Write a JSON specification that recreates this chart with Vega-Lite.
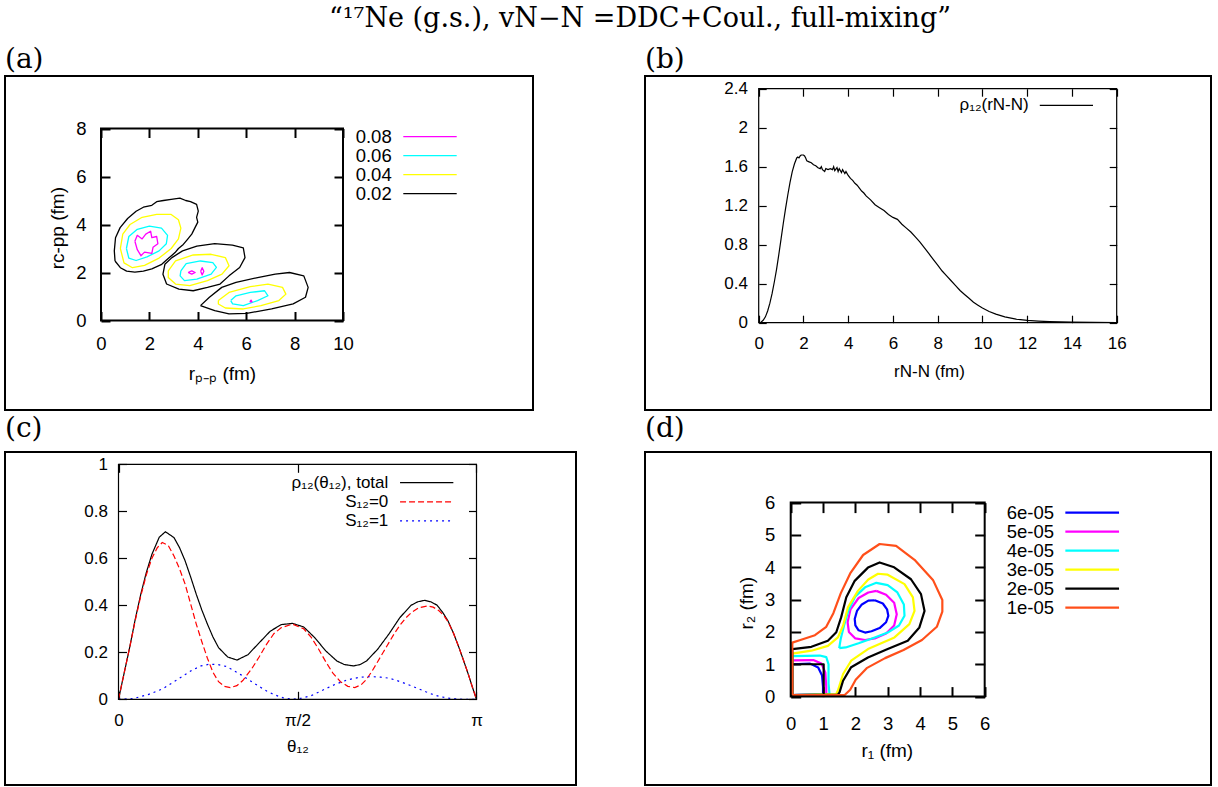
{
"$schema":"https://vega.github.io/schema/vega-lite/v6.json",
"background":"white",
"padding":{"left":4,"top":5,"right":4,"bottom":2},
"title":{"text":"“¹⁷Ne (g.s.), vN−N =DDC+Coul., full-mixing”","font":"DejaVu Serif","fontSize":27,"fontWeight":"normal","anchor":"middle","dx":32,"offset":12,"color":"black"},
"datasets":{
"ca":[
{"g":"k1","l":"0.02","i":0,"x":0.58,"y":2.48},{"g":"k1","l":"0.02","i":1,"x":0.55,"y":2.9},{"g":"k1","l":"0.02","i":2,"x":0.6,"y":3.45},{"g":"k1","l":"0.02","i":3,"x":0.79,"y":3.87},{"g":"k1","l":"0.02","i":4,"x":1.1,"y":4.25},{"g":"k1","l":"0.02","i":5,"x":1.45,"y":4.55},{"g":"k1","l":"0.02","i":6,"x":1.75,"y":4.72},{"g":"k1","l":"0.02","i":7,"x":2.1,"y":4.8},{"g":"k1","l":"0.02","i":8,"x":2.3,"y":4.95},{"g":"k1","l":"0.02","i":9,"x":2.58,"y":5.0},{"g":"k1","l":"0.02","i":10,"x":2.9,"y":5.05},{"g":"k1","l":"0.02","i":11,"x":3.26,"y":5.1},{"g":"k1","l":"0.02","i":12,"x":3.5,"y":5.0},{"g":"k1","l":"0.02","i":13,"x":3.7,"y":4.95},{"g":"k1","l":"0.02","i":14,"x":3.95,"y":4.84},{"g":"k1","l":"0.02","i":15,"x":4.02,"y":4.56},{"g":"k1","l":"0.02","i":16,"x":3.95,"y":4.3},{"g":"k1","l":"0.02","i":17,"x":4.0,"y":4.1},{"g":"k1","l":"0.02","i":18,"x":3.9,"y":3.9},{"g":"k1","l":"0.02","i":19,"x":3.75,"y":3.6},{"g":"k1","l":"0.02","i":20,"x":3.55,"y":3.35},{"g":"k1","l":"0.02","i":21,"x":3.4,"y":3.17},{"g":"k1","l":"0.02","i":22,"x":3.2,"y":3.0},{"g":"k1","l":"0.02","i":23,"x":3.06,"y":2.83},{"g":"k1","l":"0.02","i":24,"x":2.8,"y":2.6},{"g":"k1","l":"0.02","i":25,"x":2.51,"y":2.34},{"g":"k1","l":"0.02","i":26,"x":2.1,"y":2.15},{"g":"k1","l":"0.02","i":27,"x":1.75,"y":2.06},{"g":"k1","l":"0.02","i":28,"x":1.4,"y":2.02},{"g":"k1","l":"0.02","i":29,"x":1.06,"y":2.06},{"g":"k1","l":"0.02","i":30,"x":0.8,"y":2.2},{"g":"k1","l":"0.02","i":31,"x":0.58,"y":2.48},
{"g":"y1","l":"0.04","i":0,"x":0.8,"y":3.0},{"g":"y1","l":"0.04","i":1,"x":0.9,"y":3.6},{"g":"y1","l":"0.04","i":2,"x":1.2,"y":4.0},{"g":"y1","l":"0.04","i":3,"x":1.7,"y":4.3},{"g":"y1","l":"0.04","i":4,"x":2.3,"y":4.42},{"g":"y1","l":"0.04","i":5,"x":2.9,"y":4.42},{"g":"y1","l":"0.04","i":6,"x":3.2,"y":4.2},{"g":"y1","l":"0.04","i":7,"x":3.3,"y":3.85},{"g":"y1","l":"0.04","i":8,"x":3.2,"y":3.4},{"g":"y1","l":"0.04","i":9,"x":2.9,"y":3.0},{"g":"y1","l":"0.04","i":10,"x":2.4,"y":2.6},{"g":"y1","l":"0.04","i":11,"x":1.8,"y":2.3},{"g":"y1","l":"0.04","i":12,"x":1.3,"y":2.2},{"g":"y1","l":"0.04","i":13,"x":0.95,"y":2.4},{"g":"y1","l":"0.04","i":14,"x":0.8,"y":3.0},
{"g":"c1","l":"0.06","i":0,"x":1.05,"y":3.0},{"g":"c1","l":"0.06","i":1,"x":1.15,"y":3.5},{"g":"c1","l":"0.06","i":2,"x":1.5,"y":3.8},{"g":"c1","l":"0.06","i":3,"x":2.0,"y":3.93},{"g":"c1","l":"0.06","i":4,"x":2.5,"y":3.85},{"g":"c1","l":"0.06","i":5,"x":2.75,"y":3.55},{"g":"c1","l":"0.06","i":6,"x":2.7,"y":3.2},{"g":"c1","l":"0.06","i":7,"x":2.4,"y":2.9},{"g":"c1","l":"0.06","i":8,"x":1.9,"y":2.65},{"g":"c1","l":"0.06","i":9,"x":1.45,"y":2.5},{"g":"c1","l":"0.06","i":10,"x":1.15,"y":2.6},{"g":"c1","l":"0.06","i":11,"x":1.05,"y":3.0},
{"g":"m1","l":"0.08","i":0,"x":1.4,"y":3.3},{"g":"m1","l":"0.08","i":1,"x":1.5,"y":3.55},{"g":"m1","l":"0.08","i":2,"x":1.7,"y":3.4},{"g":"m1","l":"0.08","i":3,"x":1.85,"y":3.6},{"g":"m1","l":"0.08","i":4,"x":2.05,"y":3.72},{"g":"m1","l":"0.08","i":5,"x":2.1,"y":3.45},{"g":"m1","l":"0.08","i":6,"x":2.3,"y":3.5},{"g":"m1","l":"0.08","i":7,"x":2.35,"y":3.2},{"g":"m1","l":"0.08","i":8,"x":2.15,"y":3.05},{"g":"m1","l":"0.08","i":9,"x":2.1,"y":2.8},{"g":"m1","l":"0.08","i":10,"x":1.8,"y":2.85},{"g":"m1","l":"0.08","i":11,"x":1.65,"y":2.7},{"g":"m1","l":"0.08","i":12,"x":1.5,"y":2.95},{"g":"m1","l":"0.08","i":13,"x":1.4,"y":3.3},
{"g":"k2","l":"0.02","i":0,"x":3.37,"y":2.9},{"g":"k2","l":"0.02","i":1,"x":3.96,"y":3.1},{"g":"k2","l":"0.02","i":2,"x":4.7,"y":3.2},{"g":"k2","l":"0.02","i":3,"x":5.43,"y":3.14},{"g":"k2","l":"0.02","i":4,"x":5.88,"y":3.03},{"g":"k2","l":"0.02","i":5,"x":5.95,"y":2.62},{"g":"k2","l":"0.02","i":6,"x":5.73,"y":2.21},{"g":"k2","l":"0.02","i":7,"x":5.29,"y":1.86},{"g":"k2","l":"0.02","i":8,"x":4.92,"y":1.52},{"g":"k2","l":"0.02","i":9,"x":4.4,"y":1.38},{"g":"k2","l":"0.02","i":10,"x":3.81,"y":1.24},{"g":"k2","l":"0.02","i":11,"x":3.22,"y":1.31},{"g":"k2","l":"0.02","i":12,"x":2.71,"y":1.52},{"g":"k2","l":"0.02","i":13,"x":2.56,"y":1.93},{"g":"k2","l":"0.02","i":14,"x":2.64,"y":2.34},{"g":"k2","l":"0.02","i":15,"x":2.93,"y":2.62},{"g":"k2","l":"0.02","i":16,"x":3.37,"y":2.9},
{"g":"y2","l":"0.04","i":0,"x":2.78,"y":2.07},{"g":"y2","l":"0.04","i":1,"x":3.08,"y":2.48},{"g":"y2","l":"0.04","i":2,"x":3.81,"y":2.73},{"g":"y2","l":"0.04","i":3,"x":4.55,"y":2.76},{"g":"y2","l":"0.04","i":4,"x":5.14,"y":2.62},{"g":"y2","l":"0.04","i":5,"x":5.29,"y":2.28},{"g":"y2","l":"0.04","i":6,"x":5.0,"y":1.93},{"g":"y2","l":"0.04","i":7,"x":4.4,"y":1.66},{"g":"y2","l":"0.04","i":8,"x":3.67,"y":1.45},{"g":"y2","l":"0.04","i":9,"x":3.08,"y":1.52},{"g":"y2","l":"0.04","i":10,"x":2.78,"y":1.79},{"g":"y2","l":"0.04","i":11,"x":2.78,"y":2.07},
{"g":"c2","l":"0.06","i":0,"x":3.3,"y":2.07},{"g":"c2","l":"0.06","i":1,"x":3.52,"y":2.37},{"g":"c2","l":"0.06","i":2,"x":4.11,"y":2.48},{"g":"c2","l":"0.06","i":3,"x":4.62,"y":2.41},{"g":"c2","l":"0.06","i":4,"x":4.77,"y":2.21},{"g":"c2","l":"0.06","i":5,"x":4.55,"y":1.93},{"g":"c2","l":"0.06","i":6,"x":3.96,"y":1.72},{"g":"c2","l":"0.06","i":7,"x":3.45,"y":1.66},{"g":"c2","l":"0.06","i":8,"x":3.27,"y":1.86},{"g":"c2","l":"0.06","i":9,"x":3.3,"y":2.07},
{"g":"m2","l":"0.08","i":0,"x":3.6,"y":2.0},{"g":"m2","l":"0.08","i":1,"x":3.75,"y":2.07},{"g":"m2","l":"0.08","i":2,"x":3.89,"y":2.0},{"g":"m2","l":"0.08","i":3,"x":3.75,"y":1.93},{"g":"m2","l":"0.08","i":4,"x":3.6,"y":2.0},
{"g":"m3","l":"0.08","i":0,"x":4.12,"y":2.05},{"g":"m3","l":"0.08","i":1,"x":4.18,"y":2.2},{"g":"m3","l":"0.08","i":2,"x":4.25,"y":2.05},{"g":"m3","l":"0.08","i":3,"x":4.18,"y":1.9},{"g":"m3","l":"0.08","i":4,"x":4.12,"y":2.05},
{"g":"k3","l":"0.02","i":0,"x":4.11,"y":0.62},{"g":"k3","l":"0.02","i":1,"x":4.48,"y":0.97},{"g":"k3","l":"0.02","i":2,"x":4.99,"y":1.38},{"g":"k3","l":"0.02","i":3,"x":5.58,"y":1.59},{"g":"k3","l":"0.02","i":4,"x":6.47,"y":1.79},{"g":"k3","l":"0.02","i":5,"x":7.2,"y":1.93},{"g":"k3","l":"0.02","i":6,"x":7.79,"y":2.0},{"g":"k3","l":"0.02","i":7,"x":8.38,"y":1.86},{"g":"k3","l":"0.02","i":8,"x":8.56,"y":1.38},{"g":"k3","l":"0.02","i":9,"x":8.45,"y":0.97},{"g":"k3","l":"0.02","i":10,"x":7.94,"y":0.69},{"g":"k3","l":"0.02","i":11,"x":7.05,"y":0.48},{"g":"k3","l":"0.02","i":12,"x":6.02,"y":0.3},{"g":"k3","l":"0.02","i":13,"x":5.29,"y":0.28},{"g":"k3","l":"0.02","i":14,"x":4.7,"y":0.41},{"g":"k3","l":"0.02","i":15,"x":4.11,"y":0.62},
{"g":"y3","l":"0.04","i":0,"x":4.85,"y":0.83},{"g":"y3","l":"0.04","i":1,"x":5.29,"y":1.17},{"g":"y3","l":"0.04","i":2,"x":6.17,"y":1.41},{"g":"y3","l":"0.04","i":3,"x":6.9,"y":1.52},{"g":"y3","l":"0.04","i":4,"x":7.5,"y":1.38},{"g":"y3","l":"0.04","i":5,"x":7.64,"y":1.1},{"g":"y3","l":"0.04","i":6,"x":7.35,"y":0.83},{"g":"y3","l":"0.04","i":7,"x":6.61,"y":0.62},{"g":"y3","l":"0.04","i":8,"x":5.88,"y":0.48},{"g":"y3","l":"0.04","i":9,"x":5.14,"y":0.52},{"g":"y3","l":"0.04","i":10,"x":4.85,"y":0.69},{"g":"y3","l":"0.04","i":11,"x":4.85,"y":0.83},
{"g":"c3","l":"0.06","i":0,"x":5.36,"y":0.83},{"g":"c3","l":"0.06","i":1,"x":5.58,"y":1.03},{"g":"c3","l":"0.06","i":2,"x":6.17,"y":1.17},{"g":"c3","l":"0.06","i":3,"x":6.76,"y":1.24},{"g":"c3","l":"0.06","i":4,"x":6.9,"y":1.03},{"g":"c3","l":"0.06","i":5,"x":6.47,"y":0.83},{"g":"c3","l":"0.06","i":6,"x":5.88,"y":0.62},{"g":"c3","l":"0.06","i":7,"x":5.44,"y":0.69},{"g":"c3","l":"0.06","i":8,"x":5.36,"y":0.83},
{"g":"m4","l":"0.08","i":0,"x":6.15,"y":0.78},{"g":"m4","l":"0.08","i":1,"x":6.2,"y":0.85},{"g":"m4","l":"0.08","i":2,"x":6.24,"y":0.78},{"g":"m4","l":"0.08","i":3,"x":6.15,"y":0.78}
],
"rb":[
{"r":0,"v":0},{"r":0.1,"v":0.005},{"r":0.2,"v":0.025},{"r":0.3,"v":0.06},{"r":0.4,"v":0.12},{"r":0.5,"v":0.2},{"r":0.6,"v":0.3},{"r":0.7,"v":0.42},{"r":0.8,"v":0.55},{"r":0.9,"v":0.7},{"r":1.0,"v":0.86},{"r":1.1,"v":1.02},{"r":1.2,"v":1.17},{"r":1.3,"v":1.31},{"r":1.4,"v":1.44},{"r":1.5,"v":1.55},{"r":1.6,"v":1.63},{"r":1.7,"v":1.69},{"r":1.75,"v":1.7},{"r":1.8,"v":1.69},{"r":1.85,"v":1.71},{"r":1.9,"v":1.72},{"r":2.0,"v":1.72},{"r":2.05,"v":1.71},{"r":2.1,"v":1.69},{"r":2.15,"v":1.66},{"r":2.25,"v":1.65},{"r":2.35,"v":1.64},{"r":2.45,"v":1.62},{"r":2.55,"v":1.61},{"r":2.65,"v":1.59},{"r":2.75,"v":1.58},{"r":2.8,"v":1.6},{"r":2.85,"v":1.57},{"r":2.95,"v":1.55},{"r":3.0,"v":1.58},{"r":3.1,"v":1.57},{"r":3.2,"v":1.58},{"r":3.3,"v":1.57},{"r":3.35,"v":1.6},{"r":3.4,"v":1.56},{"r":3.5,"v":1.59},{"r":3.55,"v":1.55},{"r":3.6,"v":1.58},{"r":3.7,"v":1.54},{"r":3.75,"v":1.57},{"r":3.85,"v":1.53},{"r":3.9,"v":1.55},{"r":4.0,"v":1.51},{"r":4.1,"v":1.48},{"r":4.2,"v":1.46},{"r":4.3,"v":1.43},{"r":4.4,"v":1.41},{"r":4.5,"v":1.38},{"r":4.6,"v":1.35},{"r":4.7,"v":1.33},{"r":4.8,"v":1.3},{"r":5.0,"v":1.26},{"r":5.2,"v":1.21},{"r":5.4,"v":1.18},{"r":5.6,"v":1.15},{"r":5.8,"v":1.11},{"r":6.0,"v":1.08},{"r":6.2,"v":1.06},{"r":6.4,"v":1.01},{"r":6.6,"v":0.97},{"r":6.8,"v":0.93},{"r":7.0,"v":0.88},{"r":7.2,"v":0.83},{"r":7.4,"v":0.77},{"r":7.6,"v":0.71},{"r":7.8,"v":0.65},{"r":8.0,"v":0.59},{"r":8.2,"v":0.53},{"r":8.4,"v":0.48},{"r":8.6,"v":0.43},{"r":8.8,"v":0.38},{"r":9.0,"v":0.33},{"r":9.2,"v":0.29},{"r":9.4,"v":0.25},{"r":9.6,"v":0.21},{"r":9.8,"v":0.18},{"r":10.0,"v":0.15},{"r":10.3,"v":0.115},{"r":10.6,"v":0.088},{"r":11.0,"v":0.06},{"r":11.5,"v":0.037},{"r":12.0,"v":0.024},{"r":12.5,"v":0.017},{"r":13.0,"v":0.012},{"r":14.0,"v":0.007},{"r":15.0,"v":0.004},{"r":16.0,"v":0.002}
],
"tc":[
{"s":"ρ₁₂(θ₁₂), total","t":0,"v":0},{"s":"ρ₁₂(θ₁₂), total","t":2.8,"v":0.11},{"s":"ρ₁₂(θ₁₂), total","t":5.6,"v":0.22},{"s":"ρ₁₂(θ₁₂), total","t":8.4,"v":0.34},{"s":"ρ₁₂(θ₁₂), total","t":11.2,"v":0.447},{"s":"ρ₁₂(θ₁₂), total","t":14,"v":0.54},{"s":"ρ₁₂(θ₁₂), total","t":16.8,"v":0.617},{"s":"ρ₁₂(θ₁₂), total","t":20.5,"v":0.69},{"s":"ρ₁₂(θ₁₂), total","t":23.6,"v":0.713},{"s":"ρ₁₂(θ₁₂), total","t":27.9,"v":0.688},{"s":"ρ₁₂(θ₁₂), total","t":30.7,"v":0.645},{"s":"ρ₁₂(θ₁₂), total","t":33.5,"v":0.589},{"s":"ρ₁₂(θ₁₂), total","t":36.3,"v":0.52},{"s":"ρ₁₂(θ₁₂), total","t":39.1,"v":0.447},{"s":"ρ₁₂(θ₁₂), total","t":41.9,"v":0.38},{"s":"ρ₁₂(θ₁₂), total","t":44.7,"v":0.32},{"s":"ρ₁₂(θ₁₂), total","t":47.5,"v":0.265},{"s":"ρ₁₂(θ₁₂), total","t":50.3,"v":0.22},{"s":"ρ₁₂(θ₁₂), total","t":54.9,"v":0.18},{"s":"ρ₁₂(θ₁₂), total","t":59.6,"v":0.167},{"s":"ρ₁₂(θ₁₂), total","t":65.1,"v":0.19},{"s":"ρ₁₂(θ₁₂), total","t":70.7,"v":0.24},{"s":"ρ₁₂(θ₁₂), total","t":76.3,"v":0.29},{"s":"ρ₁₂(θ₁₂), total","t":81.9,"v":0.318},{"s":"ρ₁₂(θ₁₂), total","t":87.5,"v":0.323},{"s":"ρ₁₂(θ₁₂), total","t":93.1,"v":0.308},{"s":"ρ₁₂(θ₁₂), total","t":98.7,"v":0.262},{"s":"ρ₁₂(θ₁₂), total","t":104.2,"v":0.206},{"s":"ρ₁₂(θ₁₂), total","t":109.8,"v":0.163},{"s":"ρ₁₂(θ₁₂), total","t":113.5,"v":0.148},{"s":"ρ₁₂(θ₁₂), total","t":118.2,"v":0.142},{"s":"ρ₁₂(θ₁₂), total","t":121.5,"v":0.148},{"s":"ρ₁₂(θ₁₂), total","t":124.7,"v":0.163},{"s":"ρ₁₂(θ₁₂), total","t":130.3,"v":0.213},{"s":"ρ₁₂(θ₁₂), total","t":135.9,"v":0.277},{"s":"ρ₁₂(θ₁₂), total","t":141.5,"v":0.348},{"s":"ρ₁₂(θ₁₂), total","t":147.1,"v":0.4},{"s":"ρ₁₂(θ₁₂), total","t":150.5,"v":0.415},{"s":"ρ₁₂(θ₁₂), total","t":153.9,"v":0.421},{"s":"ρ₁₂(θ₁₂), total","t":157,"v":0.415},{"s":"ρ₁₂(θ₁₂), total","t":160.1,"v":0.401},{"s":"ρ₁₂(θ₁₂), total","t":163,"v":0.37},{"s":"ρ₁₂(θ₁₂), total","t":165.7,"v":0.333},{"s":"ρ₁₂(θ₁₂), total","t":168.5,"v":0.28},{"s":"ρ₁₂(θ₁₂), total","t":171.2,"v":0.22},{"s":"ρ₁₂(θ₁₂), total","t":173.5,"v":0.165},{"s":"ρ₁₂(θ₁₂), total","t":175.9,"v":0.106},{"s":"ρ₁₂(θ₁₂), total","t":178,"v":0.05},{"s":"ρ₁₂(θ₁₂), total","t":180,"v":0},
{"s":"S₁₂=0","t":0,"v":0},{"s":"S₁₂=0","t":2.8,"v":0.11},{"s":"S₁₂=0","t":5.6,"v":0.22},{"s":"S₁₂=0","t":8.4,"v":0.335},{"s":"S₁₂=0","t":11.2,"v":0.44},{"s":"S₁₂=0","t":14,"v":0.53},{"s":"S₁₂=0","t":16.8,"v":0.6},{"s":"S₁₂=0","t":19.5,"v":0.645},{"s":"S₁₂=0","t":22,"v":0.667},{"s":"S₁₂=0","t":25,"v":0.655},{"s":"S₁₂=0","t":27.9,"v":0.61},{"s":"S₁₂=0","t":30.7,"v":0.555},{"s":"S₁₂=0","t":33.5,"v":0.49},{"s":"S₁₂=0","t":36.3,"v":0.405},{"s":"S₁₂=0","t":39.1,"v":0.32},{"s":"S₁₂=0","t":41.9,"v":0.245},{"s":"S₁₂=0","t":44.7,"v":0.175},{"s":"S₁₂=0","t":47.5,"v":0.115},{"s":"S₁₂=0","t":50.3,"v":0.075},{"s":"S₁₂=0","t":53.2,"v":0.055},{"s":"S₁₂=0","t":56.2,"v":0.05},{"s":"S₁₂=0","t":59.5,"v":0.058},{"s":"S₁₂=0","t":62.5,"v":0.08},{"s":"S₁₂=0","t":67,"v":0.13},{"s":"S₁₂=0","t":70.7,"v":0.18},{"s":"S₁₂=0","t":74.5,"v":0.235},{"s":"S₁₂=0","t":78.2,"v":0.28},{"s":"S₁₂=0","t":81.9,"v":0.305},{"s":"S₁₂=0","t":87.5,"v":0.32},{"s":"S₁₂=0","t":93.1,"v":0.3},{"s":"S₁₂=0","t":96.8,"v":0.265},{"s":"S₁₂=0","t":100.5,"v":0.215},{"s":"S₁₂=0","t":104.2,"v":0.16},{"s":"S₁₂=0","t":107.9,"v":0.11},{"s":"S₁₂=0","t":111.6,"v":0.075},{"s":"S₁₂=0","t":115.3,"v":0.055},{"s":"S₁₂=0","t":118.8,"v":0.05},{"s":"S₁₂=0","t":122,"v":0.062},{"s":"S₁₂=0","t":124.7,"v":0.085},{"s":"S₁₂=0","t":127.5,"v":0.12},{"s":"S₁₂=0","t":130.3,"v":0.16},{"s":"S₁₂=0","t":133.1,"v":0.2},{"s":"S₁₂=0","t":135.9,"v":0.24},{"s":"S₁₂=0","t":138.7,"v":0.28},{"s":"S₁₂=0","t":141.5,"v":0.315},{"s":"S₁₂=0","t":144.3,"v":0.345},{"s":"S₁₂=0","t":147.1,"v":0.368},{"s":"S₁₂=0","t":151,"v":0.39},{"s":"S₁₂=0","t":155.4,"v":0.397},{"s":"S₁₂=0","t":158.2,"v":0.392},{"s":"S₁₂=0","t":161,"v":0.378},{"s":"S₁₂=0","t":163.5,"v":0.357},{"s":"S₁₂=0","t":165.7,"v":0.33},{"s":"S₁₂=0","t":168.5,"v":0.28},{"s":"S₁₂=0","t":171.2,"v":0.22},{"s":"S₁₂=0","t":173.5,"v":0.165},{"s":"S₁₂=0","t":175.9,"v":0.106},{"s":"S₁₂=0","t":178,"v":0.05},{"s":"S₁₂=0","t":180,"v":0},
{"s":"S₁₂=1","t":0,"v":0},{"s":"S₁₂=1","t":7.4,"v":0.003},{"s":"S₁₂=1","t":14.9,"v":0.02},{"s":"S₁₂=1","t":22.3,"v":0.045},{"s":"S₁₂=1","t":29.8,"v":0.085},{"s":"S₁₂=1","t":37.2,"v":0.125},{"s":"S₁₂=1","t":41.5,"v":0.142},{"s":"S₁₂=1","t":45.6,"v":0.149},{"s":"S₁₂=1","t":50,"v":0.148},{"s":"S₁₂=1","t":54,"v":0.14},{"s":"S₁₂=1","t":57.5,"v":0.125},{"s":"S₁₂=1","t":61.4,"v":0.105},{"s":"S₁₂=1","t":66,"v":0.08},{"s":"S₁₂=1","t":70.7,"v":0.055},{"s":"S₁₂=1","t":74.5,"v":0.035},{"s":"S₁₂=1","t":78.2,"v":0.02},{"s":"S₁₂=1","t":82.5,"v":0.007},{"s":"S₁₂=1","t":87.5,"v":0},{"s":"S₁₂=1","t":92,"v":0.005},{"s":"S₁₂=1","t":96.8,"v":0.015},{"s":"S₁₂=1","t":100.5,"v":0.03},{"s":"S₁₂=1","t":104.2,"v":0.045},{"s":"S₁₂=1","t":108.8,"v":0.063},{"s":"S₁₂=1","t":113.5,"v":0.078},{"s":"S₁₂=1","t":117.3,"v":0.087},{"s":"S₁₂=1","t":121,"v":0.093},{"s":"S₁₂=1","t":124.7,"v":0.096},{"s":"S₁₂=1","t":128.4,"v":0.096},{"s":"S₁₂=1","t":132,"v":0.094},{"s":"S₁₂=1","t":135.9,"v":0.09},{"s":"S₁₂=1","t":139.6,"v":0.081},{"s":"S₁₂=1","t":143.3,"v":0.07},{"s":"S₁₂=1","t":147,"v":0.058},{"s":"S₁₂=1","t":150.8,"v":0.045},{"s":"S₁₂=1","t":154.5,"v":0.032},{"s":"S₁₂=1","t":158.2,"v":0.02},{"s":"S₁₂=1","t":162,"v":0.011},{"s":"S₁₂=1","t":165.7,"v":0.005},{"s":"S₁₂=1","t":169.4,"v":0.002},{"s":"S₁₂=1","t":173.1,"v":0},{"s":"S₁₂=1","t":180,"v":0}
],
"cd":[
{"g":"b1","l":"6e-05","i":0,"x":2.6,"y":2.98},{"g":"b1","l":"6e-05","i":1,"x":2.85,"y":2.88},{"g":"b1","l":"6e-05","i":2,"x":2.98,"y":2.7},{"g":"b1","l":"6e-05","i":3,"x":3.02,"y":2.5},{"g":"b1","l":"6e-05","i":4,"x":2.95,"y":2.3},{"g":"b1","l":"6e-05","i":5,"x":2.75,"y":2.12},{"g":"b1","l":"6e-05","i":6,"x":2.5,"y":2.02},{"g":"b1","l":"6e-05","i":7,"x":2.3,"y":1.98},{"g":"b1","l":"6e-05","i":8,"x":2.1,"y":2.05},{"g":"b1","l":"6e-05","i":9,"x":2.0,"y":2.2},{"g":"b1","l":"6e-05","i":10,"x":1.98,"y":2.4},{"g":"b1","l":"6e-05","i":11,"x":2.05,"y":2.65},{"g":"b1","l":"6e-05","i":12,"x":2.2,"y":2.85},{"g":"b1","l":"6e-05","i":13,"x":2.4,"y":2.97},{"g":"b1","l":"6e-05","i":14,"x":2.6,"y":2.98},
{"g":"b2","l":"6e-05","i":0,"x":0.05,"y":0.05},{"g":"b2","l":"6e-05","i":1,"x":0.05,"y":1.0},{"g":"b2","l":"6e-05","i":2,"x":0.6,"y":1.02},{"g":"b2","l":"6e-05","i":3,"x":0.85,"y":0.9},{"g":"b2","l":"6e-05","i":4,"x":0.97,"y":0.65},{"g":"b2","l":"6e-05","i":5,"x":1.0,"y":0.3},{"g":"b2","l":"6e-05","i":6,"x":1.0,"y":0.08},{"g":"b2","l":"6e-05","i":7,"x":0.05,"y":0.05},
{"g":"p1","l":"5e-05","i":0,"x":2.65,"y":3.27},{"g":"p1","l":"5e-05","i":1,"x":2.95,"y":3.15},{"g":"p1","l":"5e-05","i":2,"x":3.2,"y":2.9},{"g":"p1","l":"5e-05","i":3,"x":3.28,"y":2.55},{"g":"p1","l":"5e-05","i":4,"x":3.2,"y":2.2},{"g":"p1","l":"5e-05","i":5,"x":2.95,"y":1.95},{"g":"p1","l":"5e-05","i":6,"x":2.6,"y":1.8},{"g":"p1","l":"5e-05","i":7,"x":2.3,"y":1.75},{"g":"p1","l":"5e-05","i":8,"x":2.0,"y":1.8},{"g":"p1","l":"5e-05","i":9,"x":1.8,"y":2.0},{"g":"p1","l":"5e-05","i":10,"x":1.76,"y":2.3},{"g":"p1","l":"5e-05","i":11,"x":1.85,"y":2.7},{"g":"p1","l":"5e-05","i":12,"x":2.1,"y":3.05},{"g":"p1","l":"5e-05","i":13,"x":2.4,"y":3.22},{"g":"p1","l":"5e-05","i":14,"x":2.65,"y":3.27},
{"g":"p2","l":"5e-05","i":0,"x":0.05,"y":0.05},{"g":"p2","l":"5e-05","i":1,"x":0.05,"y":1.12},{"g":"p2","l":"5e-05","i":2,"x":0.7,"y":1.13},{"g":"p2","l":"5e-05","i":3,"x":0.95,"y":1.02},{"g":"p2","l":"5e-05","i":4,"x":1.07,"y":0.75},{"g":"p2","l":"5e-05","i":5,"x":1.1,"y":0.3},{"g":"p2","l":"5e-05","i":6,"x":1.1,"y":0.07},{"g":"p2","l":"5e-05","i":7,"x":0.05,"y":0.05},
{"g":"q1","l":"4e-05","i":0,"x":1.5,"y":1.5},{"g":"q1","l":"4e-05","i":1,"x":1.55,"y":1.8},{"g":"q1","l":"4e-05","i":2,"x":1.65,"y":2.2},{"g":"q1","l":"4e-05","i":3,"x":1.78,"y":2.65},{"g":"q1","l":"4e-05","i":4,"x":2.0,"y":3.1},{"g":"q1","l":"4e-05","i":5,"x":2.3,"y":3.38},{"g":"q1","l":"4e-05","i":6,"x":2.65,"y":3.52},{"g":"q1","l":"4e-05","i":7,"x":3.0,"y":3.45},{"g":"q1","l":"4e-05","i":8,"x":3.3,"y":3.22},{"g":"q1","l":"4e-05","i":9,"x":3.5,"y":2.85},{"g":"q1","l":"4e-05","i":10,"x":3.52,"y":2.5},{"g":"q1","l":"4e-05","i":11,"x":3.35,"y":2.2},{"g":"q1","l":"4e-05","i":12,"x":3.0,"y":1.98},{"g":"q1","l":"4e-05","i":13,"x":2.6,"y":1.83},{"g":"q1","l":"4e-05","i":14,"x":2.1,"y":1.65},{"g":"q1","l":"4e-05","i":15,"x":1.7,"y":1.52},{"g":"q1","l":"4e-05","i":16,"x":1.5,"y":1.5},
{"g":"q2","l":"4e-05","i":0,"x":0.05,"y":0.05},{"g":"q2","l":"4e-05","i":1,"x":0.05,"y":1.25},{"g":"q2","l":"4e-05","i":2,"x":0.9,"y":1.27},{"g":"q2","l":"4e-05","i":3,"x":1.1,"y":1.22},{"g":"q2","l":"4e-05","i":4,"x":1.17,"y":1.0},{"g":"q2","l":"4e-05","i":5,"x":1.17,"y":0.4},{"g":"q2","l":"4e-05","i":6,"x":1.2,"y":0.08},{"g":"q2","l":"4e-05","i":7,"x":0.05,"y":0.05},
{"g":"r1","l":"3e-05","i":0,"x":0.05,"y":0.05},{"g":"r1","l":"3e-05","i":1,"x":0.05,"y":1.33},{"g":"r1","l":"3e-05","i":2,"x":0.64,"y":1.42},{"g":"r1","l":"3e-05","i":3,"x":1.15,"y":1.57},{"g":"r1","l":"3e-05","i":4,"x":1.46,"y":1.83},{"g":"r1","l":"3e-05","i":5,"x":1.62,"y":2.19},{"g":"r1","l":"3e-05","i":6,"x":1.77,"y":2.76},{"g":"r1","l":"3e-05","i":7,"x":2.08,"y":3.27},{"g":"r1","l":"3e-05","i":8,"x":2.4,"y":3.62},{"g":"r1","l":"3e-05","i":9,"x":2.7,"y":3.8},{"g":"r1","l":"3e-05","i":10,"x":3.0,"y":3.77},{"g":"r1","l":"3e-05","i":11,"x":3.52,"y":3.48},{"g":"r1","l":"3e-05","i":12,"x":3.78,"y":3.07},{"g":"r1","l":"3e-05","i":13,"x":3.83,"y":2.65},{"g":"r1","l":"3e-05","i":14,"x":3.67,"y":2.24},{"g":"r1","l":"3e-05","i":15,"x":3.21,"y":1.83},{"g":"r1","l":"3e-05","i":16,"x":2.39,"y":1.47},{"g":"r1","l":"3e-05","i":17,"x":1.87,"y":1.11},{"g":"r1","l":"3e-05","i":18,"x":1.62,"y":0.7},{"g":"r1","l":"3e-05","i":19,"x":1.46,"y":0.19},{"g":"r1","l":"3e-05","i":20,"x":1.41,"y":0.08},{"g":"r1","l":"3e-05","i":21,"x":0.05,"y":0.05},
{"g":"s1","l":"2e-05","i":0,"x":0.05,"y":0.05},{"g":"s1","l":"2e-05","i":1,"x":0.05,"y":1.47},{"g":"s1","l":"2e-05","i":2,"x":0.64,"y":1.54},{"g":"s1","l":"2e-05","i":3,"x":1.15,"y":1.73},{"g":"s1","l":"2e-05","i":4,"x":1.41,"y":1.99},{"g":"s1","l":"2e-05","i":5,"x":1.56,"y":2.45},{"g":"s1","l":"2e-05","i":6,"x":1.72,"y":3.07},{"g":"s1","l":"2e-05","i":7,"x":1.98,"y":3.58},{"g":"s1","l":"2e-05","i":8,"x":2.39,"y":3.99},{"g":"s1","l":"2e-05","i":9,"x":2.75,"y":4.15},{"g":"s1","l":"2e-05","i":10,"x":3.2,"y":4.0},{"g":"s1","l":"2e-05","i":11,"x":3.72,"y":3.63},{"g":"s1","l":"2e-05","i":12,"x":4.03,"y":3.17},{"g":"s1","l":"2e-05","i":13,"x":4.14,"y":2.65},{"g":"s1","l":"2e-05","i":14,"x":3.98,"y":2.14},{"g":"s1","l":"2e-05","i":15,"x":3.62,"y":1.73},{"g":"s1","l":"2e-05","i":16,"x":3.0,"y":1.47},{"g":"s1","l":"2e-05","i":17,"x":2.39,"y":1.21},{"g":"s1","l":"2e-05","i":18,"x":1.87,"y":0.91},{"g":"s1","l":"2e-05","i":19,"x":1.62,"y":0.49},{"g":"s1","l":"2e-05","i":20,"x":1.51,"y":0.13},{"g":"s1","l":"2e-05","i":21,"x":1.46,"y":0.06},{"g":"s1","l":"2e-05","i":22,"x":0.05,"y":0.05},
{"g":"s2","l":"2e-05","i":0,"x":0.05,"y":1.0},{"g":"s2","l":"2e-05","i":1,"x":1.02,"y":1.0},{"g":"s2","l":"2e-05","i":2,"x":1.02,"y":0.05},
{"g":"o1","l":"1e-05","i":0,"x":0.05,"y":0.05},{"g":"o1","l":"1e-05","i":1,"x":0.05,"y":1.67},{"g":"o1","l":"1e-05","i":2,"x":0.3,"y":1.75},{"g":"o1","l":"1e-05","i":3,"x":0.75,"y":1.9},{"g":"o1","l":"1e-05","i":4,"x":1.1,"y":2.16},{"g":"o1","l":"1e-05","i":5,"x":1.32,"y":2.58},{"g":"o1","l":"1e-05","i":6,"x":1.55,"y":3.2},{"g":"o1","l":"1e-05","i":7,"x":1.84,"y":3.81},{"g":"o1","l":"1e-05","i":8,"x":2.24,"y":4.38},{"g":"o1","l":"1e-05","i":9,"x":2.75,"y":4.72},{"g":"o1","l":"1e-05","i":10,"x":3.26,"y":4.66},{"g":"o1","l":"1e-05","i":11,"x":3.83,"y":4.23},{"g":"o1","l":"1e-05","i":12,"x":4.4,"y":3.61},{"g":"o1","l":"1e-05","i":13,"x":4.69,"y":2.99},{"g":"o1","l":"1e-05","i":14,"x":4.69,"y":2.63},{"g":"o1","l":"1e-05","i":15,"x":4.52,"y":2.16},{"g":"o1","l":"1e-05","i":16,"x":4.06,"y":1.75},{"g":"o1","l":"1e-05","i":17,"x":3.49,"y":1.44},{"g":"o1","l":"1e-05","i":18,"x":2.92,"y":1.19},{"g":"o1","l":"1e-05","i":19,"x":2.35,"y":0.88},{"g":"o1","l":"1e-05","i":20,"x":2.01,"y":0.52},{"g":"o1","l":"1e-05","i":21,"x":1.84,"y":0.21},{"g":"o1","l":"1e-05","i":22,"x":1.67,"y":0.05},{"g":"o1","l":"1e-05","i":23,"x":0.05,"y":0.05}
]
},
"vconcat":[
{"hconcat":[
{
"title":{"text":"(a)","anchor":"start","frame":"bounds","fontSize":28,"offset":2},
"width":528,"height":334,
"view":{"stroke":"black","strokeWidth":2},
"layer":[
{"data":{"name":"ca"},
"mark":{"type":"line","strokeWidth":1.3,"strokeJoin":"round"},
"encoding":{
"x":{"field":"x","type":"quantitative","scale":{"domain":[-3.9669,17.851],"nice":false,"zero":false},"axis":{"orient":"bottom","offset":-89.5,"values":[0,2,4,6,8,10],"format":"~r","tickSize":-9,"tickWidth":2,"labelFontSize":18.5,"labelPadding":23,"title":"rₚ₋ₚ (fm)","titleFontSize":19,"titleX":217,"titleY":44}},
"y":{"field":"y","type":"quantitative","scale":{"domain":[-3.729,10.1875],"nice":false,"zero":false},"axis":{"orient":"left","offset":-96,"values":[0,2,4,6,8],"format":"~r","tickSize":-9,"tickWidth":2,"labelFontSize":18.5,"labelPadding":24,"title":"rc-pp (fm)","titleFontSize":19,"titleX":-44,"titleY":151.7,"titleAngle":270,"titleBaseline":"middle","titleAlign":"center"}},
"color":{"field":"l","type":"nominal","scale":{"domain":["0.08","0.06","0.04","0.02"],"range":["#ff00ff","#00ffff","#ffff00","#000000"]},"legend":{"orient":"none","legendX":386,"legendY":51.45,"title":null,"symbolType":"M-5.34,0H5.34","symbolSize":100,"symbolStrokeWidth":1.3,"labelAlign":"right","labelOffset":-47.55,"symbolOffset":29.75,"labelFontSize":18.5,"rowPadding":-0.4}},
"detail":{"field":"g"},
"order":{"field":"i","type":"quantitative"}}},
{"data":{"values":[{}]},
"mark":{"type":"rect","filled":false,"stroke":"black","strokeWidth":2},
"encoding":{
"x":{"datum":0,"type":"quantitative","scale":{"domain":[-3.9669,17.851],"nice":false,"zero":false},"axis":{"orient":"top","offset":-52.5,"values":[0,2,4,6,8,10],"tickSize":-9,"tickWidth":2,"labels":false,"title":null}},
"x2":{"datum":10},
"y":{"datum":8,"type":"quantitative","scale":{"domain":[-3.729,10.1875],"nice":false,"zero":false},"axis":{"orient":"right","offset":-190,"values":[0,2,4,6,8],"tickSize":-9,"tickWidth":2,"labels":false,"title":null}},
"y2":{"datum":0}}}
],
"resolve":{"axis":{"x":"independent","y":"independent"}}
},
{
"title":{"text":"(b)","anchor":"start","frame":"bounds","fontSize":28,"offset":2},
"width":566,"height":334,
"view":{"stroke":"black","strokeWidth":2},
"layer":[
{"data":{"name":"rb"},
"mark":{"type":"line","strokeWidth":1.2},
"encoding":{
"x":{"field":"r","type":"quantitative","scale":{"domain":[-5.0816,20.215],"nice":false,"zero":false},"axis":{"orient":"bottom","offset":-87.3,"values":[0,2,4,6,8,10,12,14,16],"format":"~r","tickSize":-7.5,"tickWidth":1.2,"labelFontSize":17,"labelPadding":20,"title":"rN-N  (fm)","titleFontSize":17,"titleX":284,"titleY":41}},
"y":{"field":"v","type":"quantitative","scale":{"domain":[-0.8954,2.5303],"nice":false,"zero":false},"axis":{"orient":"left","offset":-113.7,"values":[0,0.4,0.8,1.2,1.6,2,2.4],"format":"~r","tickSize":-7.5,"tickWidth":1.2,"labelFontSize":17,"labelPadding":18.7,"title":null}},
"color":{"datum":"ρ₁₂(rN-N)","type":"nominal","scale":{"domain":["ρ₁₂(rN-N)"],"range":["#000000"]},"legend":{"orient":"none","legendX":383.7,"legendY":20.8,"title":null,"symbolType":"M-5.32,0H5.32","symbolSize":100,"symbolStrokeWidth":1.2,"labelAlign":"right","labelOffset":-46.2,"symbolOffset":29.2,"labelFontSize":17}}}},
{"data":{"values":[{}]},
"mark":{"type":"rect","filled":false,"stroke":"black","strokeWidth":1.2},
"encoding":{
"x":{"datum":0,"type":"quantitative","scale":{"domain":[-5.0816,20.215],"nice":false,"zero":false},"axis":{"orient":"top","offset":-12.7,"values":[0,2,4,6,8,10,12,14,16],"tickSize":-7.5,"tickWidth":1.2,"labels":false,"title":null}},
"x2":{"datum":16},
"y":{"datum":2.4,"type":"quantitative","scale":{"domain":[-0.8954,2.5303],"nice":false,"zero":false},"axis":{"orient":"right","offset":-94.3,"values":[0,0.4,0.8,1.2,1.6,2,2.4],"tickSize":-7.5,"tickWidth":1.2,"labels":false,"title":null}},
"y2":{"datum":0}}}
],
"resolve":{"axis":{"x":"independent","y":"independent"}}
}
],"spacing":110,"resolve":{"scale":{"color":"independent","strokeDash":"independent"}}},
{"hconcat":[
{
"title":{"text":"(c)","anchor":"start","frame":"bounds","fontSize":28,"offset":9},
"width":571,"height":333,
"view":{"stroke":"black","strokeWidth":2},
"layer":[
{"data":{"name":"tc"},
"mark":{"type":"line","strokeWidth":1.2},
"encoding":{
"x":{"field":"t","type":"quantitative","scale":{"domain":[-57.07,230.03],"nice":false,"zero":false},"axis":{"orient":"bottom","offset":-85.7,"values":[0,90,180],"labelExpr":"datum.value == 0 ? '0' : datum.value == 90 ? 'π/2' : 'π'","tickSize":-8,"tickWidth":1.2,"labelFontSize":17,"labelPadding":20.7,"title":"θ₁₂","titleFontSize":17,"titleX":292.5,"titleY":39}},
"y":{"field":"v","type":"quantitative","scale":{"domain":[-0.36468,1.05234],"nice":false,"zero":false},"axis":{"orient":"left","offset":-113.5,"values":[0,0.2,0.4,0.6,0.8,1],"format":"~r","tickSize":-8,"tickWidth":1.2,"labelFontSize":17,"labelPadding":19,"title":null}},
"color":{"field":"s","type":"nominal","scale":{"domain":["ρ₁₂(θ₁₂), total","S₁₂=0","S₁₂=1"],"range":["#000000","#ff0000","#0000ff"]},"legend":{"orient":"none","legendX":383.5,"legendY":22.2,"title":null,"symbolType":"M-5.33,0H5.33","symbolSize":100,"symbolStrokeWidth":1.2,"labelAlign":"right","labelOffset":-46.9,"symbolOffset":29.7,"labelFontSize":17,"rowPadding":1.1}},
"strokeDash":{"field":"s","type":"nominal","scale":{"domain":["ρ₁₂(θ₁₂), total","S₁₂=0","S₁₂=1"],"range":[[1,0],[6,3],[2,4]]},"legend":{"orient":"none","legendX":383.5,"legendY":22.2,"title":null,"symbolType":"M-5.33,0H5.33","symbolSize":100,"symbolStrokeWidth":1.2,"labelAlign":"right","labelOffset":-46.9,"symbolOffset":29.7,"labelFontSize":17,"rowPadding":1.1}}}},
{"data":{"values":[{}]},
"mark":{"type":"rect","filled":false,"stroke":"black","strokeWidth":1.2},
"encoding":{
"x":{"datum":0,"type":"quantitative","scale":{"domain":[-57.07,230.03],"nice":false,"zero":false},"axis":{"orient":"top","offset":-12.3,"values":[0,90,180],"tickSize":-8,"tickWidth":1.2,"labels":false,"title":null}},
"x2":{"datum":180},
"y":{"datum":1,"type":"quantitative","scale":{"domain":[-0.36468,1.05234],"nice":false,"zero":false},"axis":{"orient":"right","offset":-99.5,"values":[0,0.2,0.4,0.6,0.8,1],"tickSize":-8,"tickWidth":1.2,"labels":false,"title":null}},
"y2":{"datum":0}}}
],
"resolve":{"axis":{"x":"independent","y":"independent"}}
},
{
"title":{"text":"(d)","anchor":"start","frame":"bounds","fontSize":28,"offset":9},
"width":566,"height":333,
"view":{"stroke":"black","strokeWidth":2},
"layer":[
{"data":{"name":"cd"},
"mark":{"type":"line","strokeWidth":2.2,"strokeJoin":"round"},
"encoding":{
"x":{"field":"x","type":"quantitative","scale":{"domain":[-4.5066,13.0],"nice":false,"zero":false},"axis":{"orient":"bottom","offset":-88.4,"values":[0,1,2,3,4,5,6],"format":"~r","tickSize":-10,"tickWidth":2,"labelFontSize":18.5,"labelPadding":27.7,"title":"r₁  (fm)","titleFontSize":19,"titleX":241.8,"titleY":44.5}},
"y":{"field":"y","type":"quantitative","scale":{"domain":[-2.7343,7.5657],"nice":false,"zero":false},"axis":{"orient":"left","offset":-145.7,"values":[0,1,2,3,4,5,6],"format":"~r","tickSize":-10,"tickWidth":2,"labelFontSize":18.5,"labelPadding":26,"title":"r₂  (fm)","titleFontSize":19,"titleX":-44,"titleY":150.7,"titleAngle":270,"titleBaseline":"middle","titleAlign":"center"}},
"color":{"field":"l","type":"nominal","scale":{"domain":["6e-05","5e-05","4e-05","3e-05","2e-05","1e-05"],"range":["#0000ff","#ff00ff","#00ffff","#ffff00","#000000","#ff4f1a"]},"legend":{"orient":"none","legendX":408.7,"legendY":51.45,"title":null,"symbolType":"M-5.37,0H5.37","symbolSize":100,"symbolStrokeWidth":2.2,"labelAlign":"right","labelOffset":-47.45,"symbolOffset":29.25,"labelFontSize":18.5,"rowPadding":-0.5}},
"detail":{"field":"g"},
"order":{"field":"i","type":"quantitative"}}},
{"data":{"values":[{}]},
"mark":{"type":"rect","filled":false,"stroke":"black","strokeWidth":2},
"encoding":{
"x":{"datum":0,"type":"quantitative","scale":{"domain":[-4.5066,13.0],"nice":false,"zero":false},"axis":{"orient":"top","offset":-50.6,"values":[0,1,2,3,4,5,6],"tickSize":-10,"tickWidth":2,"labels":false,"title":null}},
"x2":{"datum":6},
"y":{"datum":6,"type":"quantitative","scale":{"domain":[-2.7343,7.5657],"nice":false,"zero":false},"axis":{"orient":"right","offset":-226.3,"values":[0,1,2,3,4,5,6],"tickSize":-10,"tickWidth":2,"labels":false,"title":null}},
"y2":{"datum":0}}}
],
"resolve":{"axis":{"x":"independent","y":"independent"}}
}
],"spacing":67,"resolve":{"scale":{"color":"independent","strokeDash":"independent"}}}
],
"spacing":3,
"resolve":{"scale":{"color":"independent","strokeDash":"independent"}},
"config":{
"view":{"stroke":null},
"axis":{"grid":false,"domain":false,"tickColor":"black","labelColor":"black","titleColor":"black","labelFont":"Liberation Sans","titleFont":"Liberation Sans","titleFontWeight":"normal","labelFlush":false,"labelOverlap":false,"minExtent":0},
"legend":{"labelFont":"Liberation Sans","labelColor":"black","padding":0,"labelLimit":400},
"title":{"font":"DejaVu Serif","fontWeight":"normal","color":"black"}
}
}
